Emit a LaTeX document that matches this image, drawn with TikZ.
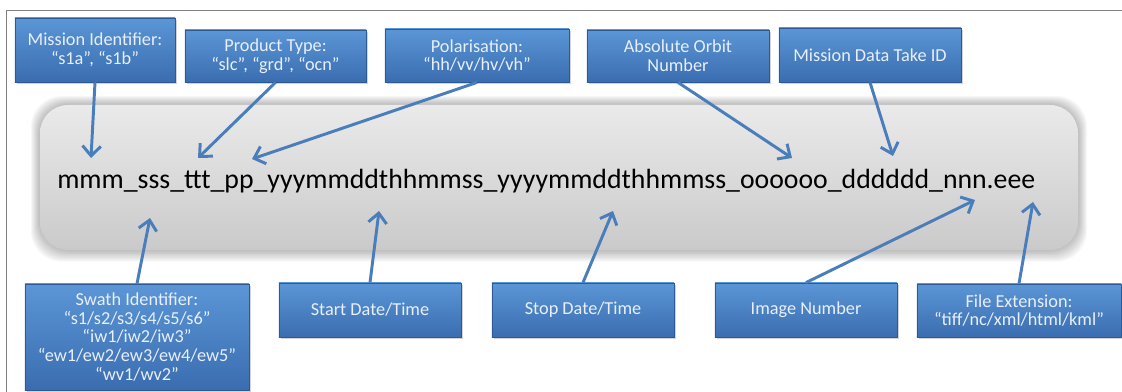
\documentclass[tikz,border=0pt]{standalone}
\usepackage{fontspec}
\setmainfont{Carlito}
\usetikzlibrary{arrows.meta,shadows}
\definecolor{boxtop}{HTML}{5B96D6}
\definecolor{boxbottom}{HTML}{3A6DB0}
\definecolor{boxedge}{HTML}{2C5A93}
\definecolor{boxtext}{HTML}{E8EFF8}
\definecolor{arrowblue}{HTML}{4A7EBB}
\definecolor{bandtop}{HTML}{EAEAEA}
\definecolor{bandbottom}{HTML}{CACACA}
\tikzset{
  infobox/.style={draw=boxedge, line width=0.6pt, top color=boxtop, bottom color=boxbottom,
    text=boxtext, align=center, inner sep=2pt,
    font=\fontsize{13}{13.4}\selectfont,
    drop shadow={shadow xshift=1.2pt, shadow yshift=-1.5pt, opacity=0.35}},
  pointer/.style={draw=arrowblue, line width=2.1pt,
    -{Straight Barb[length=7pt, width=13pt, line width=2.1pt]}},
}
\begin{document}
\begin{tikzpicture}[x=0.025cm, y=-0.025cm]
    \useasboundingbox (0,0) rectangle (1122,392);
    % Frame
    \draw[gray, line width=0.7pt] (1122,10) -- (6,10) -- (6,392);
    % Grey band with soft edge
    \foreach \g in {1,...,9} {
        \fill[black, opacity=0.03, rounded corners=22]
            (40-\g,105-\g) rectangle (1078+\g,250+\g+0.3*\g);
    }
    \shade[top color=bandtop, bottom color=bandbottom, rounded corners=20]
        (40,105) rectangle (1078,250);
    % File name pattern
    \node[anchor=base west, inner sep=0, font=\fontsize{19.75}{22}\selectfont] (pattern) at (57,189)
        {mmm\_sss\_ttt\_pp\_yyymmddthhmmss\_yyyymmddthhmmss\_oooooo\_dddddd\_nnn.eee};
    % Pointer tips
    \coordinate (tipM) at (91,158);
    \coordinate (tipT) at (198,158);
    \coordinate (tipP) at (252,159);
    \coordinate (tipO) at (792,158);
    \coordinate (tipD) at (893,156);
    \coordinate (tipS) at (150,218);
    \coordinate (tipStart) at (379,211);
    \coordinate (tipStop) at (613,211);
    \coordinate (tipN) at (975,200);
    \coordinate (tipE) at (1033,202);
    % Upper boxes
    \node[infobox, minimum width=4cm, minimum height=1.6cm] (mission) at (95,50)
        {Mission Identifier:\\“s1a”, “s1b”};
    \node[infobox, minimum width=4.525cm, minimum height=1.3cm] (product) at (275.5,56)
        {Product Type:\\“slc”, “grd”, “ocn”};
    \node[infobox, minimum width=4.6cm, minimum height=1.325cm] (polar) at (477,55.5)
        {Polarisation:\\“hh/vv/hv/vh”};
    \node[infobox, minimum width=4.55cm, minimum height=1.3cm] (orbit) at (678,56)
        {Absolute Orbit\\Number};
    \node[infobox, minimum width=4.55cm, minimum height=1.35cm] (datatake) at (870,55)
        {Mission Data Take ID};
    % Lower boxes
    \node[infobox, minimum width=5.6cm, minimum height=2.65cm] (swath) at (137,337)
        {Swath Identifier:\\“s1/s2/s3/s4/s5/s6”\\“iw1/iw2/iw3”\\“ew1/ew2/ew3/ew4/ew5”\\“wv1/wv2”};
    \node[infobox, minimum width=4.55cm, minimum height=1.35cm] (startt) at (370,310)
        {Start Date/Time};
    \node[infobox, minimum width=4.55cm, minimum height=1.35cm] (stopt) at (583,310)
        {Stop Date/Time};
    \node[infobox, minimum width=4.55cm, minimum height=1.35cm] (imgnum) at (806,310)
        {Image Number};
    \node[infobox, minimum width=5.1cm, minimum height=1.325cm] (fileext) at (1019,310.5)
        {File Extension:\\“tiff/nc/xml/html/kml”};
    % Pointers
    \draw[pointer] (mission.south) -- (tipM);
    \draw[pointer] (product.south) -- (tipT);
    \draw[pointer] (polar.south) -- (tipP);
    \draw[pointer] (orbit.south) -- (tipO);
    \draw[pointer] (datatake.south) -- (tipD);
    \draw[pointer] (swath.north) -- (tipS);
    \draw[pointer] (startt.north) -- (tipStart);
    \draw[pointer] (stopt.north) -- (tipStop);
    \draw[pointer] (imgnum.north) -- (tipN);
    \draw[pointer] (fileext.north) -- (tipE);
\end{tikzpicture}
\end{document}
